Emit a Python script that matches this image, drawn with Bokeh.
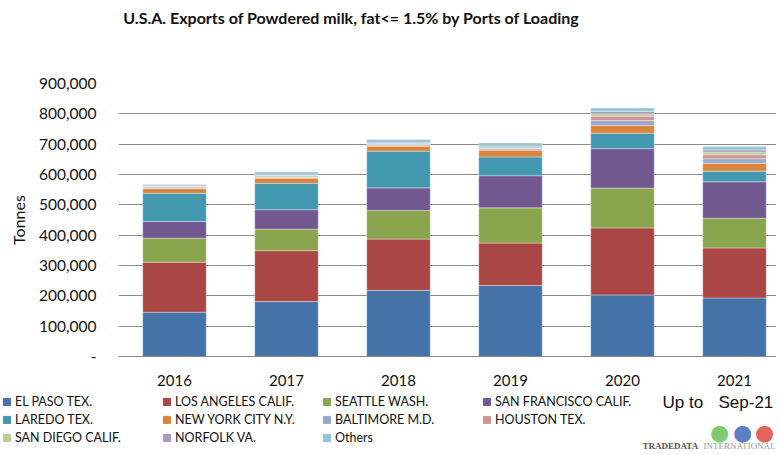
from bokeh.plotting import figure
from bokeh.models import ColumnDataSource, Range1d, FixedTicker, NumeralTickFormatter, Label, Legend, LegendItem
from bokeh.layouts import column
from bokeh.embed import file_html
from bokeh.resources import INLINE

years = ["2016", "2017", "2018", "2019", "2020", "2021"]
ports = ["EL PASO TEX.", "LOS ANGELES CALIF.", "SEATTLE WASH.", "SAN FRANCISCO CALIF.",
         "LAREDO TEX.", "NEW YORK CITY N.Y.", "BALTIMORE M.D.", "HOUSTON TEX.",
         "SAN DIEGO CALIF.", "NORFOLK VA.", "Others"]
el_paso = [146000, 181000, 218000, 234000, 203000, 193000]
los_angeles = [165000, 168000, 169000, 140000, 221000, 165000]
seattle = [79000, 71000, 94000, 116000, 131000, 98000]
san_francisco = [55000, 64000, 75000, 106000, 130000, 120000]
laredo = [93000, 87000, 121000, 62000, 51000, 35000]
new_york = [15000, 17000, 16000, 22000, 26000, 26000]
baltimore = [3000, 2000, 3000, 4000, 16000, 15000]
houston = [3000, 2000, 3000, 2000, 14000, 13000]
san_diego = [2000, 5000, 3000, 5000, 8000, 9000]
norfolk = [2000, 2000, 3000, 3000, 8000, 7000]
others = [4000, 9000, 10000, 10000, 11000, 11000]
y_ticks = [0, 100000, 200000, 300000, 400000, 500000, 600000, 700000, 800000, 900000]

colors = ["#4572A7", "#AA4643", "#89A54E", "#71588F", "#4198AF", "#DB843D",
          "#93A9CF", "#D19392", "#B9CD96", "#A99BBD", "#92C5D8"]
series = [el_paso, los_angeles, seattle, san_francisco, laredo, new_york,
          baltimore, houston, san_diego, norfolk, others]
keys = ["s%d" % i for i in range(len(series))]

data = {"x": list(range(len(years)))}
for k, s in zip(keys, series):
    data[k] = s
source = ColumnDataSource(data)

FONT = "Lato"
W = 776


def blank(h):
    f = figure(width=W, height=h, output_backend="svg", toolbar_location=None,
               x_range=Range1d(0, W), y_range=Range1d(h, 0),
               x_axis_location=None, y_axis_location=None,
               min_border=0, min_border_left=0, min_border_right=0,
               min_border_top=0, min_border_bottom=0)
    f.outline_line_color = None
    f.grid.visible = False
    f.frame_align = False
    return f


# ---- title strip ----
t = blank(75)
t.add_layout(Label(x=351, y=17, text="U.S.A. Exports of Powdered milk, fat<= 1.5% by Ports of Loading",
                   text_font=FONT, text_font_size="16px", text_font_style="bold",
                   text_align="center", text_baseline="middle", text_color="#111111"))

# ---- main chart ----
p = figure(width=W, height=317, output_backend="svg", toolbar_location=None,
           x_range=Range1d(-0.5, 5.375), y_range=Range1d(0, 900000),
           min_border_left=118, min_border_right=0, min_border_top=8, min_border_bottom=36)
p.outline_line_color = None
p.frame_align = False

p.vbar_stack(keys, x="x", width=0.567, source=source, color=colors,
             line_color="white", line_width=0.6, line_alpha=0.6)

p.xaxis.ticker = FixedTicker(ticks=list(range(len(years))))
p.xaxis.major_label_overrides = {i: y for i, y in enumerate(years)}
p.xaxis.major_tick_line_color = None
p.xaxis.minor_tick_line_color = None
p.xaxis.axis_line_color = "#8c8c8c"
p.xaxis.axis_line_width = 1.2
p.xaxis.major_label_text_font = FONT
p.xaxis.major_label_text_font_size = "15px"
p.xaxis.major_label_text_color = "#111111"
p.xaxis.major_label_standoff = 12

p.yaxis.ticker = FixedTicker(ticks=y_ticks)
p.yaxis.formatter = NumeralTickFormatter(format="0,0")
p.yaxis.major_label_overrides = {0: "-"}
p.yaxis.axis_line_color = None
p.yaxis.major_tick_line_color = None
p.yaxis.minor_tick_line_color = None
p.yaxis.major_label_text_font = FONT
p.yaxis.major_label_text_font_size = "15.5px"
p.yaxis.major_label_text_color = "#111111"
p.yaxis.major_label_standoff = 16
p.yaxis.axis_label = "Tonnes"
p.yaxis.axis_label_text_font = FONT
p.yaxis.axis_label_text_font_size = "16px"
p.yaxis.axis_label_text_font_style = "normal"
p.yaxis.axis_label_text_color = "#111111"
p.yaxis.axis_label_standoff = 8

p.xgrid.grid_line_color = None
p.ygrid.grid_line_color = "#8c8c8c"
p.ygrid.grid_line_width = 1.2

# ---- legend strip ----
q = blank(58)
items = []
for name, k, c in zip(ports, keys, colors):
    r = q.vbar(x="x", top=k, width=1, source=source, color=c, visible=False)
    items.append(LegendItem(label=name, renderers=[r]))
lg = Legend(items=items, orientation="horizontal", ncols=4, location="top_left",
            padding=0, margin=2, spacing=3, glyph_width=9, glyph_height=9,
            label_standoff=4, label_width=144, label_height=15,
            label_text_font=FONT, label_text_font_size="12.5px", label_text_color="#111111",
            border_line_color=None, background_fill_alpha=0,
            click_policy="none", inactive_fill_alpha=0)
q.add_layout(lg)

q.add_layout(Label(x=662, y=10, text="Up to", text_font="Liberation Sans", text_font_size="17px",
                   text_baseline="middle", text_color="#111111"))
q.add_layout(Label(x=718, y=10, text="Sep-21", text_font="Liberation Sans", text_font_size="17px",
                   text_baseline="middle", text_color="#111111"))

for cx, c in [(719, "#6cbf5a"), (742, "#3f68b8"), (764, "#e0483f")]:
    q.add_layout(Label(x=cx, y=40, text="\u25CF", text_font="DejaVu Sans", text_font_size="22px",
                       text_align="center", text_baseline="middle", text_color=c, text_alpha=0.85))
q.add_layout(Label(x=642, y=53, text="TRADEDATA", text_font="Liberation Serif",
                   text_font_size="9px", text_font_style="bold",
                   text_baseline="middle", text_color="#555555"))
q.add_layout(Label(x=703, y=53, text="INTERNATIONAL", text_font="Liberation Serif",
                   text_font_size="9px", text_baseline="middle", text_color="#9a9a9a"))

layout = column(t, p, q, spacing=0)
open("out.html", "w").write(file_html(layout, INLINE))
